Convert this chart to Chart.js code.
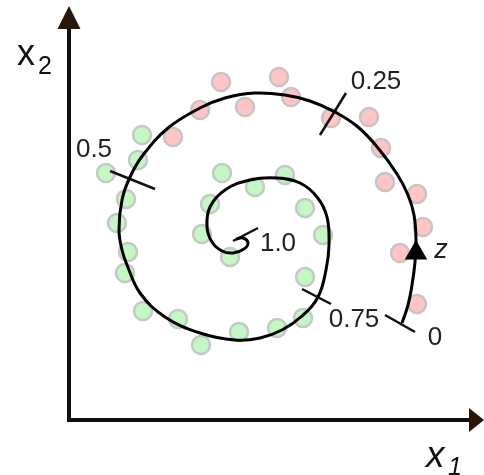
<!DOCTYPE html>
<html>
<head>
<meta charset="utf-8">
<script src="https://cdn.jsdelivr.net/npm/chart.js@4.4.0/dist/chart.umd.min.js"></script>
<style>
  html, body { margin: 0; padding: 0; background: #fff; }
  #wrap { width: 484px; height: 475px; }
</style>
</head>
<body>
<div id="wrap"><canvas id="spiralChart"></canvas></div>
<script>
// spiral path from z = 0 (outer end) to z = 1 (centre), in x1/x2 units
const spiralX = [333, 339, 343, 346, 347, 345, 339, 328, 309, 289, 266, 241, 216, 186, 156, 131, 99, 74, 61, 53,
                 50, 53, 58, 71, 96, 131, 166, 191, 213, 233, 249, 257, 260, 258, 248, 231, 208, 181, 156, 141,
                 138, 143, 153, 164, 175, 179, 174, 167];
const spiralY = [97, 115, 135, 158, 180, 205, 225, 246, 272, 293, 308, 319, 325, 327, 322, 312, 292, 265, 243, 220,
                 190, 170, 155, 127, 103, 87, 80, 82, 90, 104, 123, 150, 175, 203, 223, 237, 242, 240, 230, 213,
                 193, 178, 169, 167, 171, 177, 182, 181];

// z markers along the spiral (short cross strokes)
const zValues = ['0', '0.25', '0.5', '0.75', '1.0'];
const zTickX1 = [316, 251, 41, 233, 164];
const zTickY1 = [105, 285, 249, 131, 179];
const zTickX2 = [346, 277, 86, 262, 189];
const zTickY2 = [88, 327, 231, 116, 192];

// class A samples (red)
const redX = [152, 210, 222, 176, 131, 104, 262, 300, 312, 316, 348, 354, 331, 348];
const redY = [338, 343, 323, 313, 310, 283, 302, 303, 272, 238, 226, 193, 167, 116];

// class B samples (green)
const greenX = [73, 69, 37, 57, 48, 59, 56, 74, 109, 132, 170, 208, 234, 236, 254, 236, 216, 186, 153, 141, 133, 161];
const greenY = [285, 260, 247, 221, 197, 168, 147, 109, 101, 75, 88, 92, 102, 143, 185, 212, 245, 233, 247, 216, 186, 163];

// direction arrow for z
const arrowX = [347];
const arrowY = [167];

// where each z label sits (label centre)
const zLabelPos = [[366, 82], [307, 338], [25, 270], [285, 100], [209, 176]];

const toPoints = (xs, ys) => xs.map((x, i) => ({ x: x, y: ys[i] }));

const tickSets = zValues.map((v, i) => ({
  label: 'z = ' + v,
  data: [{ x: zTickX1[i], y: zTickY1[i] }, { x: zTickX2[i], y: zTickY2[i] }],
  showLine: true,
  borderColor: '#111',
  borderWidth: 2.5,
  pointRadius: 0,
  tension: 0
}));

const FONT = '"Liberation Sans", Arial, sans-serif';

// axes with arrow heads and all the text labels
const framePlugin = {
  id: 'frame',
  beforeDatasetsDraw(chart) {
    const { ctx, scales: { x, y } } = chart;
    const ox = x.getPixelForValue(0);
    const oy = y.getPixelForValue(0);
    ctx.save();
    ctx.strokeStyle = '#111';
    ctx.lineWidth = 4;
    ctx.lineJoin = 'miter';
    ctx.beginPath();
    ctx.moveTo(ox, y.getPixelForValue(392));
    ctx.lineTo(ox, oy);
    ctx.lineTo(x.getPixelForValue(401), oy);
    ctx.stroke();

    ctx.fillStyle = '#2a150b';
    ctx.beginPath();
    ctx.moveTo(ox, y.getPixelForValue(414));
    ctx.lineTo(ox - 11.5, y.getPixelForValue(391));
    ctx.lineTo(ox + 11.5, y.getPixelForValue(391));
    ctx.closePath();
    ctx.fill();
    ctx.beginPath();
    ctx.moveTo(x.getPixelForValue(415), oy);
    ctx.lineTo(x.getPixelForValue(400), oy - 12);
    ctx.lineTo(x.getPixelForValue(400), oy + 12);
    ctx.closePath();
    ctx.fill();

    // axis names
    ctx.fillStyle = '#111';
    ctx.textBaseline = 'alphabetic';
    ctx.textAlign = 'left';
    ctx.font = '36px ' + FONT;
    ctx.fillText('x', ox - 52, y.getPixelForValue(355));
    ctx.font = '25px ' + FONT;
    ctx.fillText('2', ox - 31, y.getPixelForValue(346));
    ctx.font = 'italic 37px ' + FONT;
    ctx.fillText('x', x.getPixelForValue(357), oy + 47);
    ctx.font = 'italic 25px ' + FONT;
    ctx.fillText('1', x.getPixelForValue(379), oy + 55);
    ctx.restore();
  },
  afterDatasetsDraw(chart) {
    const { ctx, scales: { x, y } } = chart;
    ctx.save();
    ctx.fillStyle = '#222';
    ctx.textAlign = 'center';
    ctx.textBaseline = 'middle';
    ctx.font = '26px ' + FONT;
    zValues.forEach((v, i) => {
      ctx.fillText(v, x.getPixelForValue(zLabelPos[i][0]), y.getPixelForValue(zLabelPos[i][1]));
    });
    ctx.font = 'italic 27px ' + FONT;
    ctx.fillText('z', x.getPixelForValue(372), y.getPixelForValue(170));
    ctx.restore();
  }
};

new Chart(document.getElementById('spiralChart'), {
  type: 'scatter',
  data: {
    datasets: [
      {
        label: 'z direction',
        data: toPoints(arrowX, arrowY),
        pointStyle: 'triangle',
        pointRadius: 13,
        backgroundColor: '#000',
        borderColor: '#000',
        borderWidth: 0
      },
      {
        label: 'spiral',
        data: toPoints(spiralX, spiralY),
        showLine: true,
        tension: 0.4,
        borderColor: '#000',
        borderWidth: 3,
        pointRadius: 0,
        fill: false
      },
      ...tickSets,
      {
        label: 'class A',
        data: toPoints(redX, redY),
        pointRadius: 9,
        borderWidth: 2.5,
        backgroundColor: '#ffc4c4',
        borderColor: '#c9c3c3'
      },
      {
        label: 'class B',
        data: toPoints(greenX, greenY),
        pointRadius: 9,
        borderWidth: 2.5,
        backgroundColor: '#c4f7c4',
        borderColor: '#c3c9c3'
      }
    ]
  },
  options: {
    responsive: true,
    maintainAspectRatio: false,
    animation: false,
    layout: { padding: 0, autoPadding: false },
    clip: false,
    plugins: {
      legend: { display: false },
      tooltip: { enabled: false }
    },
    scales: {
      x: { type: 'linear', min: -69, max: 415, display: false },
      y: { type: 'linear', min: -55, max: 420, display: false }
    }
  },
  plugins: [framePlugin]
});
</script>
</body>
</html>
